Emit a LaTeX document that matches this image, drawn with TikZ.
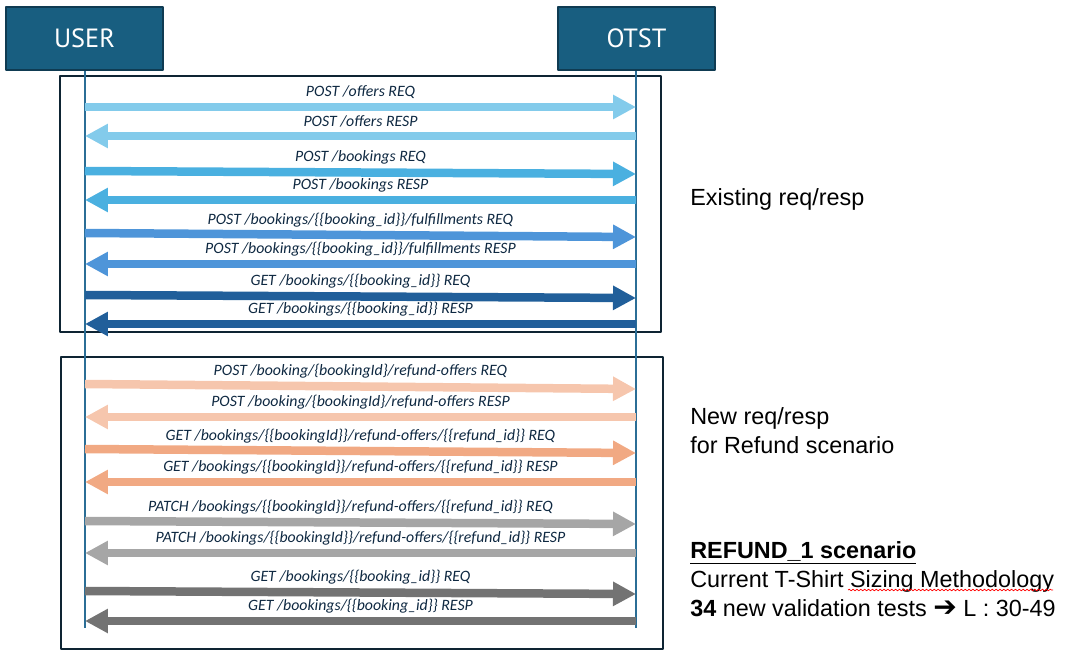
\documentclass[tikz,border=0pt]{standalone}
\usepackage{fontspec}
\setmainfont{Liberation Sans}
\newfontfamily\lblfont{Carlito}
\newfontfamily\headfont{PT Sans}
\newfontfamily\symfont{DejaVu Sans}
\usetikzlibrary{arrows.meta,decorations.pathmorphing}
\definecolor{boxblue}{HTML}{185E80}
\definecolor{boxedge}{HTML}{0F3B52}
\definecolor{lifeblue}{HTML}{2B6E96}
\definecolor{framecol}{HTML}{0E2433}
\definecolor{lbltext}{HTML}{0E2841}
\definecolor{offersblue}{HTML}{83CBEB}
\definecolor{bookingsblue}{HTML}{4AB0E0}
\definecolor{fulfilblue}{HTML}{4E95D9}
\definecolor{getblue}{HTML}{215F9A}
\definecolor{peachlight}{HTML}{F6C6AD}
\definecolor{peachdark}{HTML}{F1A983}
\definecolor{greylight}{HTML}{A6A6A6}
\definecolor{greydark}{HTML}{737373}
\begin{document}
\begin{tikzpicture}[x=0.02cm, y=-0.02cm, line join=round,
  box/.style={draw=boxedge, fill=boxblue, line width=0.04cm, minimum width=3.16cm, minimum height=1.26cm, text=white, font=\headfont\fontsize{15}{18}\selectfont},
  lifeline/.style={draw=lifeblue, line width=0.03cm},
  frame/.style={draw=framecol, line width=0.04cm},
  msg/.style={line width=0.17cm, -{Triangle[length=0.46cm 0 0, width=0.46cm 0 0]}},
  lbl/.style={midway, yshift=0.3cm, text=lbltext, font=\lblfont\itshape\fontsize{9}{11}\selectfont},
  side/.style={anchor=base west, inner sep=0pt, font=\fontsize{13.3}{16}\selectfont},
  spell/.style={draw=red, line width=0.4pt, decorate, decoration={snake, amplitude=0.45pt, segment length=2.2pt}}]
\useasboundingbox (0,0) rectangle (1067,665);
% kopfboxen
\node[box] (user) at (84.5,38.5) {USER};
\node[box] (otst) at (636.5,38.5) {OTST};
% rahmen
\draw[frame] (60,76) rectangle (661,332);
\draw[frame] (61,357) rectangle (663,649);
% lebenslinien
\coordinate (uend) at (85,628);
\coordinate (oend) at (636,628);
\draw[lifeline] (user.south -| uend) -- (uend);
\draw[lifeline] (otst.south -| oend) -- (oend);
% punkte auf den lebenslinien
\foreach \i/\yl/\yr in {1/107/107, 2/136/136, 3/171/174, 4/200/200, 5/233/237, 6/264/264, 7/295/298, 8/324/324, 9/384/389, 10/417/417, 11/449/453, 12/482/482, 13/521/524, 14/553/553, 15/591/594, 16/621/621}{
  \coordinate (u\i) at (85,\yl);
  \coordinate (o\i) at (636,\yr);
}
% bestehende anfragen
\draw[msg, offersblue] (u1) -- node[lbl]{POST /offers REQ} (o1);
\draw[msg, offersblue] (o2) -- node[lbl]{POST /offers RESP} (u2);
\draw[msg, bookingsblue] (u3) -- node[lbl]{POST /bookings REQ} (o3);
\draw[msg, bookingsblue] (o4) -- node[lbl]{POST /bookings RESP} (u4);
\draw[msg, fulfilblue] (u5) -- node[lbl]{POST /bookings/\{\{booking\_id\}\}/fulfillments REQ} (o5);
\draw[msg, fulfilblue] (o6) -- node[lbl]{POST /bookings/\{\{booking\_id\}\}/fulfillments RESP} (u6);
\draw[msg, getblue] (u7) -- node[lbl]{GET /bookings/\{\{booking\_id\}\} REQ} (o7);
\draw[msg, getblue] (o8) -- node[lbl]{GET /bookings/\{\{booking\_id\}\} RESP} (u8);
% neue anfragen (refund)
\draw[msg, peachlight] (u9) -- node[lbl]{POST /booking/\{bookingId\}/refund-offers REQ} (o9);
\draw[msg, peachlight] (o10) -- node[lbl]{POST /booking/\{bookingId\}/refund-offers RESP} (u10);
\draw[msg, peachdark] (u11) -- node[lbl]{GET /bookings/\{\{bookingId\}\}/refund-offers/\{\{refund\_id\}\} REQ} (o11);
\draw[msg, peachdark] (o12) -- node[lbl]{GET /bookings/\{\{bookingId\}\}/refund-offers/\{\{refund\_id\}\} RESP} (u12);
\draw[msg, greylight] (u13) -- node[lbl, xshift=-0.2cm]{PATCH /bookings/\{\{bookingId\}\}/refund-offers/\{\{refund\_id\}\} REQ} (o13);
\draw[msg, greylight] (o14) -- node[lbl]{PATCH /bookings/\{\{bookingId\}\}/refund-offers/\{\{refund\_id\}\} RESP} (u14);
\draw[msg, greydark] (u15) -- node[lbl]{GET /bookings/\{\{booking\_id\}\} REQ} (o15);
\draw[msg, greydark] (o16) -- node[lbl]{GET /bookings/\{\{booking\_id\}\} RESP} (u16);
% texte rechts
\node[side] (exist) at (690,206) {Existing req/resp};
\node[side] (newrr) at (690,424) {New req/resp};
\node[side] (forref) at (690,453) {for Refund scenario};
\node[side] (refund) at (690,558) {\textbf{\underline{REFUND\_1 scenario}}};
\node[side] (sizing) at (690,587) {Current T-Shirt Sizing Methodology};
\node[side] (tests) at (690,616) {\textbf{34} new validation tests {\symfont\bfseries\fontsize{16}{16}\selectfont ➔} L : 30-49};
\draw[spell] (848,590) -- (1053,590);
\end{tikzpicture}
\end{document}
